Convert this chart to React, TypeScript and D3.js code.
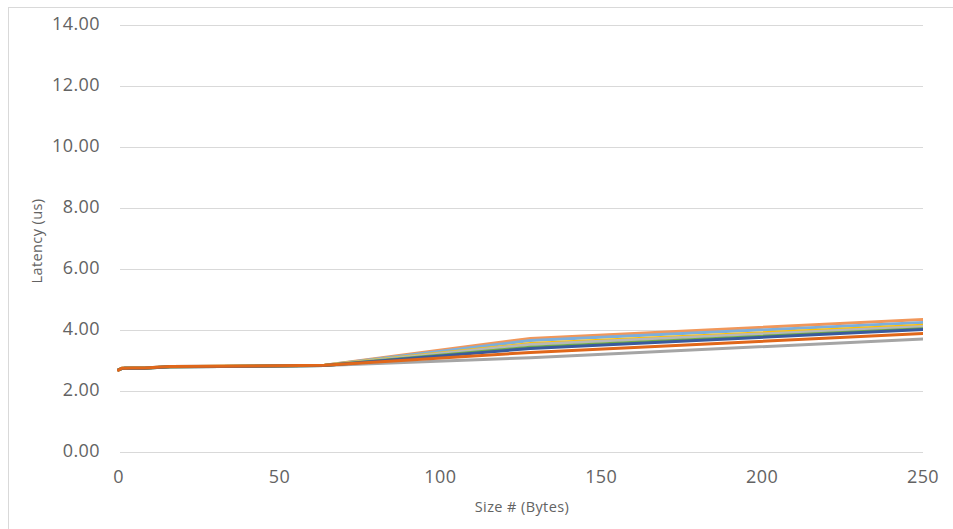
import React from "react";
import * as d3 from "d3";

// Message sizes (bytes) sampled in the latency sweep
const sizes = [0, 1, 2, 4, 8, 16, 32, 64, 128, 256];

// Latency (us) per run
const runA = [2.71, 2.75, 2.76, 2.76, 2.77, 2.8, 2.82, 2.85, 3.11, 3.75];
const runB = [2.72, 2.76, 2.77, 2.77, 2.77, 2.82, 2.83, 2.86, 3.74, 4.39];
const runC = [2.72, 2.76, 2.77, 2.77, 2.77, 2.82, 2.83, 2.86, 3.67, 4.29];
const runD = [2.71, 2.76, 2.76, 2.77, 2.77, 2.81, 2.83, 2.86, 3.57, 4.2];
const runE = [2.71, 2.75, 2.76, 2.76, 2.77, 2.81, 2.82, 2.85, 3.54, 4.16];
const runF = [2.71, 2.75, 2.76, 2.76, 2.76, 2.81, 2.82, 2.85, 3.45, 4.09];
const runG = [2.71, 2.75, 2.76, 2.76, 2.76, 2.81, 2.82, 2.85, 3.41, 4.06];
const runH = [2.7, 2.76, 2.76, 2.77, 2.77, 2.82, 2.83, 2.86, 3.28, 3.93];

const seriesValues = [runA, runB, runC, runD, runE, runF, runG, runH];
const seriesColors = ["#A5A5A5", "#F1975A", "#7CAFDD", "#FFC000", "#B7B7B7", "#70AD47", "#3A5A9C", "#E0671A"];

const yTicks = [0, 2, 4, 6, 8, 10, 12, 14];
const xTicks = [0, 50, 100, 150, 200, 250];

const W = 953;
const H = 529;
const FONT = "'Open Sans', 'Noto Sans', sans-serif";
const TEXT = "#636363";

export default function App() {
  const x = d3.scaleLinear().domain([0, 250]).range([118.5, 923]);
  const y = d3.scaleLinear().domain([0, 14]).range([452.5, 25.5]);

  const line = d3
    .line<number>()
    .x((_, i) => x(sizes[i]))
    .y((v) => y(v));

  return (
    <svg
      width={W}
      height={H}
      style={{ position: "absolute", left: 0, top: 0, background: "#fff" }}
    >
      <rect x={8.5} y={7.5} width={W + 20} height={H + 20} fill="#fff" stroke="#D9D9D9" strokeWidth={1} />
      <defs>
        <clipPath id="plot-clip">
          <rect x={x(0) - 4} y={y(14) - 4} width={x(250) - x(0) + 4} height={y(0) - y(14) + 8} />
        </clipPath>
      </defs>

      {yTicks.map((t) => (
        <g key={t}>
          <line x1={x(0) + 1.5} x2={x(250)} y1={y(t)} y2={y(t)} stroke="#D9D9D9" strokeWidth={1} />
          <text
            x={100}
            y={y(t) + 4}
            textAnchor="end"
            fontFamily={FONT}
            fontSize={18}
            letterSpacing={0.4}
            fill={TEXT}
          >
            {t.toFixed(2)}
          </text>
        </g>
      ))}

      {xTicks.map((t) => (
        <text
          key={t}
          x={x(t)}
          y={483}
          textAnchor="middle"
          fontFamily={FONT}
          fontSize={18}
          letterSpacing={0.4}
          fill={TEXT}
        >
          {t}
        </text>
      ))}

      <g clipPath="url(#plot-clip)">
        {seriesValues.map((vals, i) => (
          <path
            key={i}
            d={line(vals) ?? ""}
            fill="none"
            stroke={seriesColors[i]}
            strokeWidth={3}
            strokeLinejoin="round"
            strokeLinecap="round"
          />
        ))}
      </g>

      <text
        transform={`translate(42, ${y(7) + 2}) rotate(-90)`}
        textAnchor="middle"
        fontFamily={FONT}
        fontSize={14.5}
        letterSpacing={0.4}
        fill={TEXT}
      >
        Latency (us)
      </text>
      <text x={522} y={512} textAnchor="middle" fontFamily={FONT} fontSize={14.5} letterSpacing={0.4} fill={TEXT}>
        Size # (Bytes)
      </text>
    </svg>
  );
}
